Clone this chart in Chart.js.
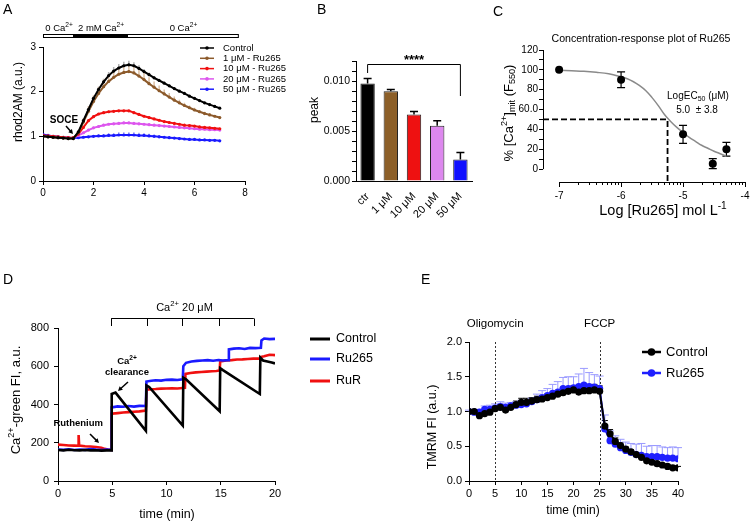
<!DOCTYPE html>
<html>
<head>
<meta charset="utf-8">
<script src="https://cdn.jsdelivr.net/npm/chart.js@4.4.1/dist/chart.umd.min.js"></script>
<style>
html, body { margin: 0; padding: 0; background: #fff; overflow: hidden; }
#wrap { position: relative; width: 750px; height: 524px; overflow: hidden; }
canvas { position: absolute; }
.lbl { position: absolute; font: 14px Arial, "Liberation Sans", sans-serif; line-height: 1; }
</style>
</head>
<body>
<div id="wrap">
  <canvas id="cA" style="left:0;top:0" width="300" height="250"></canvas>
  <canvas id="cB" style="left:300px;top:0" width="190" height="250"></canvas>
  <canvas id="cC" style="left:490px;top:0" width="270" height="250"></canvas>
  <canvas id="cD" style="left:0;top:260px" width="400" height="264"></canvas>
  <canvas id="cE" style="left:400px;top:300px" width="350" height="224"></canvas>
  <div class="lbl" style="left:3px;top:2px">A</div>
  <div class="lbl" style="left:317px;top:2px">B</div>
  <div class="lbl" style="left:493px;top:4px">C</div>
  <div class="lbl" style="left:3px;top:272px">D</div>
  <div class="lbl" style="left:421px;top:272px">E</div>
</div>
<script>
// ---- A: rhod2AM traces ----
const aTime = [0,0.2,0.4,0.6,0.8,1.0,1.2,1.4,1.6,1.8,2.0,2.2,2.4,2.6,2.8,3.0,3.2,3.4,3.6,3.8,4.0,4.2,4.4,4.6,4.8,5.0,5.2,5.4,5.6,5.8,6.0,6.2,6.4,6.6,6.8,7.0];
const aCtrl = [1.00,0.99,0.98,0.97,0.96,0.95,0.95,1.10,1.35,1.60,1.85,2.05,2.22,2.36,2.46,2.53,2.58,2.60,2.58,2.52,2.45,2.38,2.31,2.25,2.19,2.13,2.07,2.01,1.96,1.90,1.85,1.80,1.75,1.71,1.67,1.63];
const a1 = [1.00,0.99,0.98,0.97,0.96,0.95,0.95,1.08,1.32,1.56,1.78,1.96,2.11,2.23,2.32,2.39,2.43,2.45,2.42,2.35,2.27,2.18,2.10,2.02,1.95,1.88,1.81,1.75,1.69,1.64,1.59,1.55,1.51,1.48,1.45,1.42];
const a10 = [1.02,1.01,1.00,0.99,0.98,0.97,0.97,1.05,1.20,1.35,1.44,1.50,1.53,1.55,1.56,1.57,1.57,1.57,1.53,1.49,1.45,1.42,1.39,1.36,1.33,1.31,1.29,1.27,1.25,1.24,1.23,1.21,1.20,1.19,1.18,1.17];
const a20 = [1.00,1.00,0.99,0.98,0.97,0.96,0.96,1.02,1.08,1.14,1.19,1.22,1.25,1.27,1.28,1.29,1.30,1.30,1.29,1.28,1.27,1.26,1.25,1.24,1.23,1.22,1.21,1.20,1.19,1.18,1.17,1.16,1.16,1.15,1.15,1.14];
const a50 = [1.04,1.02,1.00,0.99,0.98,0.97,0.96,0.97,0.98,0.99,1.00,1.01,1.01,1.02,1.02,1.03,1.03,1.03,1.03,1.02,1.02,1.01,1.00,0.99,0.98,0.97,0.96,0.95,0.94,0.93,0.93,0.92,0.92,0.91,0.91,0.90];
const aCtrlErr = [0,0,0,0,0,0,0,0.02,0.03,0.04,0.05,0.06,0.07,0.08,0.09,0.09,0.09,0.09,0.08,0.07,0.06,0.05,0.04,0.04,0.03,0.03,0.03,0.03,0.02,0.02,0.02,0.02,0.02,0.02,0.02,0.02];
const a1Err = [0,0,0,0,0,0,0,0.05,0.09,0.12,0.14,0.15,0.16,0.16,0.16,0.16,0.16,0.16,0.16,0.16,0.15,0.14,0.13,0.12,0.10,0.09,0.08,0.07,0.06,0.05,0.05,0.04,0.04,0.04,0.03,0.03];
const a10Err = [0,0,0,0,0,0,0,0.01,0.02,0.02,0.02,0.02,0.02,0.02,0.02,0.02,0.02,0.02,0.02,0.02,0.02,0.02,0.02,0.02,0.02,0.02,0.01,0.01,0.01,0.01,0.01,0.01,0.01,0.01,0.01,0.01];
const a20Err = [0,0,0,0,0,0,0,0.01,0.02,0.03,0.03,0.03,0.03,0.03,0.03,0.03,0.03,0.03,0.03,0.03,0.03,0.03,0.03,0.03,0.03,0.03,0.02,0.02,0.02,0.02,0.02,0.02,0.02,0.02,0.02,0.02];
const a50Err = [0,0,0,0,0,0,0,0.01,0.02,0.02,0.03,0.03,0.04,0.05,0.05,0.06,0.06,0.06,0.06,0.06,0.05,0.05,0.04,0.04,0.03,0.03,0.02,0.02,0.02,0.02,0.02,0.02,0.02,0.02,0.02,0.02];
const aLabels = ['Control', '1 μM - Ru265', '10 μM - Ru265', '20 μM - Ru265', '50 μM - Ru265'];
const aColors = ['#000000', '#8c5a2b', '#f01010', '#dd55ee', '#1a1aff'];
const aErrColors = ['#b0b0b0', '#dcc0a4', '#ff9a9a', '#f2b6f8', '#a0a0ff'];
// solution bar above A (min)
const aBarStart = [0, 1.19, 3.33];
const aBarEnd = [1.19, 3.33, 7.72];
const aBarText = ['0 Ca', '2 mM Ca', '0 Ca'];

// ---- B: peak ----
const bLabels = ['ctr', '1 μM', '10 μM', '20 μM', '50 μM'];
const bPeak = [0.00976, 0.00897, 0.00665, 0.00553, 0.00215];
const bErr = [0.0005, 0.00017, 0.0003, 0.0005, 0.0007];
const bColors = ['#000000', '#8c5f28', '#ee1111', '#dd88ee', '#1111ff'];
const bBracket = [0.0117, 0.0108, 0.0085];

// ---- C: concentration-response ----
const cLogC = [-7, -6, -5, -4.52, -4.3];
const cResp = [100, 90, 35, 5.5, 20];
const cErr = [0, 8, 9, 5, 7];
const cFitX = [-7,-6.8,-6.6,-6.4,-6.2,-6.0,-5.9,-5.8,-5.7,-5.6,-5.5,-5.4,-5.3,-5.2,-5.1,-5.0,-4.9,-4.8,-4.7,-4.6,-4.5,-4.4,-4.3];
const cFitY = [99.5,99,98.5,97.5,96,93,91,88,84,79,72,64,55,48,42,37,32,28,24,21,18,15.5,13];
const cEC50 = -5.25;
const cXTicks = [-7, -6, -5, -4];
const cYTicks = [0, 10, 20, 30, 40, 50, 60, 70, 80, 90, 100, 110, 120];

// ---- D: Ca2+-green ----
const dCtrlT = [0,0.5,1,1.5,2,2.5,3,3.5,4,4.5,4.9,4.95,5.3,8.1,8.15,8.4,11.5,11.55,11.8,14.9,14.95,15.2,18.6,18.65,18.9,19.3,19.7,20];
const dCtrlY = [162,160,163,161,160,162,160,161,159,160,160,455,462,262,500,492,290,540,532,365,590,580,455,645,630,625,620,615];
const dRuT = [0,0.5,1,1.5,2,2.5,3,3.5,4,4.5,4.9,4.95,5.5,6,6.5,7,7.5,8.1,8.15,8.6,9,9.5,10,10.5,11,11.5,11.55,11.8,12.3,12.8,13.3,13.8,14.3,14.8,15.2,15.7,15.75,16.2,16.7,17.2,17.7,18.2,18.7,18.75,19,19.5,20];
const dRuY = [165,163,166,162,165,163,167,164,162,165,163,385,390,388,392,389,393,392,520,524,527,525,529,530,528,532,600,618,625,628,630,632,629,633,630,632,688,692,694,690,696,695,697,735,745,742,743];
const dRuRT = [0,0.5,1,1.5,1.85,1.9,1.95,2.5,3,3.5,4,4.3,4.6,4.9,4.95,5.5,6,6.5,7,7.5,8.1,8.15,8.6,9,9.5,10,10.5,11,11.5,11.7,11.75,12.2,12.7,13.2,13.7,14.2,14.6,14.9,14.95,15.5,16,16.5,17,17.5,18,18.6,18.65,19,19.5,20];
const dRuRY = [190,188,186,185,184,240,185,182,180,178,174,168,165,163,352,355,358,360,362,364,368,478,480,481,483,484,485,484,486,487,560,565,568,570,572,574,575,578,625,630,632,635,636,638,640,640,648,652,660,658];
const dLabels = ['Control', 'Ru265', 'RuR'];
const dColors = ['#000000', '#1a1aff', '#f01010'];
const dAdds = [4.9, 8.2, 11.45, 14.8, 18.05];

// ---- E: TMRM ----
const eTime = [0,1,2,3,4,5,6,7,8,9,10,11,12,13,14,15,16,17,18,19,20,21,22,23,24,25,26,27,28,29,30,31,32,33,34,35,36,37,38,39,40];
const eCtrl = [1.00,1.00,0.94,0.97,0.99,1.04,1.06,1.02,1.06,1.10,1.13,1.13,1.15,1.17,1.18,1.20,1.22,1.25,1.27,1.29,1.31,1.28,1.30,1.30,1.31,1.29,0.79,0.68,0.57,0.51,0.46,0.42,0.38,0.34,0.29,0.27,0.25,0.23,0.21,0.19,0.19];
const eCtrlErr = [0,0.02,0.03,0.03,0.03,0.04,0.04,0.03,0.04,0.05,0.06,0.06,0.05,0.05,0.05,0.05,0.05,0.05,0.05,0.06,0.06,0.06,0.07,0.07,0.08,0.08,0.08,0.06,0.05,0.04,0.03,0.03,0.03,0.02,0.02,0.02,0.02,0.02,0.02,0.02,0.02];
const eRu = [1.00,0.99,0.99,1.03,1.03,1.05,1.07,1.06,1.08,1.09,1.10,1.11,1.14,1.17,1.20,1.23,1.26,1.28,1.33,1.33,1.34,1.36,1.38,1.36,1.35,1.33,0.75,0.58,0.53,0.48,0.44,0.41,0.38,0.37,0.35,0.35,0.35,0.34,0.33,0.33,0.32];
const eRuErr = [0.02,0.03,0.04,0.05,0.06,0.06,0.07,0.06,0.05,0.05,0.06,0.05,0.05,0.08,0.10,0.10,0.13,0.15,0.16,0.17,0.16,0.18,0.24,0.20,0.18,0.18,0.20,0.14,0.12,0.12,0.12,0.13,0.15,0.17,0.15,0.16,0.16,0.15,0.15,0.16,0.16];
const eMarks = [5, 25];
const eMarkText = ['Oligomycin', 'FCCP'];

const FAM = 'Arial, "Liberation Sans", sans-serif';
Chart.defaults.font.family = FAM;
Chart.defaults.color = '#000';
Chart.defaults.animation = false;
Chart.defaults.responsive = false;
Chart.defaults.plugins.legend.display = false;
Chart.defaults.plugins.tooltip.enabled = false;

// text with optional super/subscript parts: [text, 1 = sup, -1 = sub]
function txt(ctx, parts, x, y, size, opts) {
  opts = opts || {};
  if (typeof parts === 'string') parts = [[parts]];
  const font = s => (opts.bold ? 'bold ' : '') + s + 'px ' + FAM;
  ctx.save();
  ctx.translate(x, y);
  if (opts.rot) ctx.rotate(opts.rot);
  let w = 0;
  parts.forEach(p => { ctx.font = font(p[1] ? size * 0.7 : size); w += ctx.measureText(p[0]).width; });
  let cx = opts.align === 'left' ? 0 : opts.align === 'right' ? -w : -w / 2;
  ctx.textBaseline = 'middle';
  ctx.textAlign = 'left';
  ctx.fillStyle = opts.color || '#000';
  parts.forEach(p => {
    const s = p[1] ? size * 0.7 : size;
    ctx.font = font(s);
    const dy = p[1] === 1 ? -size * 0.33 : p[1] === -1 ? size * 0.3 : 0;
    ctx.fillText(p[0], cx, dy);
    cx += ctx.measureText(p[0]).width;
  });
  ctx.restore();
}

function arrow(ctx, x1, y1, x2, y2) {
  const a = Math.atan2(y2 - y1, x2 - x1), h = 5;
  ctx.save();
  ctx.strokeStyle = '#000'; ctx.fillStyle = '#000'; ctx.lineWidth = 1.5;
  ctx.beginPath(); ctx.moveTo(x1, y1); ctx.lineTo(x2 - Math.cos(a) * 3, y2 - Math.sin(a) * 3); ctx.stroke();
  ctx.beginPath(); ctx.moveTo(x2, y2);
  ctx.lineTo(x2 - h * Math.cos(a - 0.5), y2 - h * Math.sin(a - 0.5));
  ctx.lineTo(x2 - h * Math.cos(a + 0.5), y2 - h * Math.sin(a + 0.5));
  ctx.closePath(); ctx.fill();
  ctx.restore();
}

const errorBars = {
  id: 'errorBars',
  beforeDatasetsDraw(chart) {
    const ctx = chart.ctx;
    chart.data.datasets.forEach((ds, i) => {
      if (!ds.errors) return;
      const meta = chart.getDatasetMeta(i);
      const ys = chart.scales[meta.yAxisID];
      ctx.save();
      ctx.strokeStyle = ds.errColor || '#000';
      ctx.lineWidth = ds.errWidth || 1;
      ctx.beginPath();
      meta.data.forEach((el, j) => {
        const e = ds.errors[j];
        if (!e) return;
        const d = ds.data[j];
        const v = typeof d === 'number' ? d : d.y;
        const yTop = ys.getPixelForValue(v + e);
        const yBot = ds.errBoth ? ys.getPixelForValue(v - e) : ys.getPixelForValue(v);
        ctx.moveTo(el.x, yBot); ctx.lineTo(el.x, yTop);
        if (ds.errCap) {
          ctx.moveTo(el.x - ds.errCap, yTop); ctx.lineTo(el.x + ds.errCap, yTop);
          if (ds.errBoth) { ctx.moveTo(el.x - ds.errCap, yBot); ctx.lineTo(el.x + ds.errCap, yBot); }
        }
      });
      ctx.stroke();
      ctx.restore();
    });
  }
};

function axis(min, max, step, size, fit, pad) {
  return {
    type: 'linear', min: min, max: max,
    border: { color: '#000', width: 1 },
    grid: { drawOnChartArea: false, color: '#000', tickLength: 4 },
    ticks: { stepSize: step, font: { size: size }, padding: pad == null ? 2 : pad, color: '#000', autoSkip: false },
    afterFit: fit
  };
}
const xy = (xs, ys) => xs.map((x, i) => ({ x: x, y: ys[i] }));

// ================= A =================
const aSeries = [aCtrl, a1, a10, a20, a50];
const aErrs = [aCtrlErr, a1Err, a10Err, a20Err, a50Err];
const aX = axis(0, 8, 2, 10, s => { s.height = 25; });
aX.border.dash = [2, 2];
new Chart(document.getElementById('cA'), {
  type: 'line',
  data: {
    datasets: aSeries.map((v, i) => ({
      label: aLabels[i], data: xy(aTime, v),
      borderColor: aColors[i], backgroundColor: aColors[i],
      borderWidth: 2, pointRadius: 1.6, pointBorderWidth: 0,
      errors: aErrs[i], errColor: aErrColors[i], errWidth: 1.5
    }))
  },
  options: {
    layout: { padding: { left: 0, top: 47, right: 55, bottom: 44 } },
    scales: { x: aX, y: axis(0, 3, 1, 10, s => { s.width = 43; }, 3) }
  },
  plugins: [errorBars, {
    id: 'panelA',
    afterDraw(chart) {
      const ctx = chart.ctx, x = chart.scales.x;
      txt(ctx, 'rhod2AM (a.u.)', 19, 102, 12, { rot: -Math.PI / 2 });
      aBarStart.forEach((s, i) => {
        const x1 = x.getPixelForValue(s), x2 = x.getPixelForValue(aBarEnd[i]);
        ctx.save();
        ctx.fillStyle = i === 1 ? '#000' : '#fff';
        ctx.strokeStyle = '#000'; ctx.lineWidth = 1;
        ctx.fillRect(x1, 34, x2 - x1, 4);
        ctx.strokeRect(Math.round(x1) + 0.5, 34.5, x2 - x1, 3);
        ctx.restore();
        txt(ctx, [[aBarText[i]], ['2+', 1]], (x1 + x2) / 2 + 1, 28, 9.5);
      });
      chart.data.datasets.forEach((ds, i) => {
        const y = 48 + i * 10.3;
        ctx.save();
        ctx.strokeStyle = ds.borderColor; ctx.fillStyle = ds.borderColor; ctx.lineWidth = 1.5;
        ctx.beginPath(); ctx.moveTo(200, y); ctx.lineTo(214, y); ctx.stroke();
        ctx.beginPath(); ctx.arc(207, y, 1.8, 0, Math.PI * 2); ctx.fill();
        ctx.restore();
        txt(ctx, ds.label, 223, y, 9.5, { align: 'left' });
      });
      txt(ctx, 'SOCE', 64, 120, 10, { bold: true });
      arrow(ctx, 66, 126, 73, 134);
    }
  }]
});

// ================= B =================
const bX = {
  type: 'category', offset: true,
  border: { color: '#000', width: 1 },
  grid: { display: false },
  ticks: { font: { size: 11 }, minRotation: 45, maxRotation: 45, padding: 1, color: '#000' },
  afterFit: s => { s.height = 45; }
};
const bY = axis(0, 0.012, 0.001, 10.5, s => { s.width = 56; });
bY.ticks.callback = v => { const k = Math.round(v * 1000); return k % 5 === 0 ? (k / 1000).toFixed(3) : ''; };
new Chart(document.getElementById('cB'), {
  type: 'bar',
  data: {
    labels: bLabels,
    datasets: [{
      data: bPeak, backgroundColor: bColors, borderColor: '#222', borderWidth: 1,
      barPercentage: 0.62, categoryPercentage: 1,
      errors: bErr, errColor: '#000', errWidth: 1.5, errCap: 4
    }]
  },
  options: {
    layout: { padding: { left: 0, top: 61, right: 18, bottom: 24 } },
    scales: { x: bX, y: bY }
  },
  plugins: [errorBars, {
    id: 'panelB',
    afterDraw(chart) {
      const ctx = chart.ctx, y = chart.scales.y, m = chart.getDatasetMeta(0);
      txt(ctx, 'peak', 15, 110, 12, { rot: -Math.PI / 2 });
      const xl = m.data[0].x, xr = m.data[4].x, yt = Math.round(y.getPixelForValue(bBracket[0])) + 0.5;
      ctx.save();
      ctx.strokeStyle = '#000'; ctx.lineWidth = 1;
      ctx.beginPath();
      ctx.moveTo(xl, y.getPixelForValue(bBracket[1])); ctx.lineTo(xl, yt);
      ctx.lineTo(xr, yt); ctx.lineTo(xr, y.getPixelForValue(bBracket[2]));
      ctx.stroke();
      ctx.restore();
      txt(ctx, '****', (xl + xr) / 2, yt - 4, 13, { bold: true });
    }
  }]
});

// ================= C =================
const cX = axis(-7.26, -4, 1, 10, s => { s.height = 30; }, 3);
cX.border = { display: false };
cX.grid.tickLength = 5;
cX.afterBuildTicks = s => { s.ticks = cXTicks.map(v => ({ value: v })); };
const cY = axis(-13, 120, 10, 10, s => { s.width = 53; }, 1);
cY.border = { display: false };
cY.afterBuildTicks = s => { s.ticks = cYTicks.map(v => ({ value: v })); };
cY.ticks.callback = v => v % 20 === 0 ? (v === 60 ? '60.0' : String(v)) : '';
new Chart(document.getElementById('cC'), {
  type: 'line',
  data: {
    datasets: [
      {
        data: xy(cLogC, cResp), showLine: false, pointRadius: 4,
        backgroundColor: '#000', borderColor: '#000', pointBorderWidth: 0,
        errors: cErr, errBoth: true, errCap: 4, errColor: '#000', errWidth: 1.2
      },
      { data: xy(cFitX, cFitY), borderColor: '#8a8a8a', borderWidth: 1.5, pointRadius: 0, tension: 0.4 },
      {
        data: [{ x: -7.26, y: 50 }, { x: cEC50, y: 50 }, { x: cEC50, y: -13 }],
        borderColor: '#000', borderWidth: 1.8, borderDash: [6, 3], pointRadius: 0
      }
    ]
  },
  options: {
    layout: { padding: { left: 0, top: 50, right: 15, bottom: 38 } },
    scales: { x: cX, y: cY }
  },
  plugins: [errorBars, {
    id: 'panelC',
    afterDraw(chart) {
      const ctx = chart.ctx, x = chart.scales.x, y = chart.scales.y, a = chart.chartArea;
      const L = Math.round(a.left) + 0.5, B = Math.round(a.bottom) + 0.5;
      ctx.save();
      ctx.strokeStyle = '#000'; ctx.lineWidth = 1;
      ctx.beginPath();
      ctx.moveTo(L, y.getPixelForValue(0)); ctx.lineTo(L, y.getPixelForValue(120));
      ctx.moveTo(x.getPixelForValue(-7), B); ctx.lineTo(x.getPixelForValue(-4), B);
      for (let n = -7; n < -4; n++) {
        for (let k = 2; k < 10; k++) {
          const px = Math.round(x.getPixelForValue(n + Math.log10(k))) + 0.5;
          ctx.moveTo(px, B); ctx.lineTo(px, B + 2.5);
        }
      }
      ctx.stroke();
      ctx.restore();
      txt(ctx, 'Concentration-response plot of Ru265', 151, 39, 10.6);
      txt(ctx, [['% [Ca'], ['2+', 1], [']'], ['mit', -1], [' (F'], ['550', -1], [')']], 19, 113, 13, { rot: -Math.PI / 2 });
      txt(ctx, [['Log [Ru265] mol L'], ['-1', 1]], 173, 211, 14.5);
      txt(ctx, [['LogEC'], ['50', -1], [' (μM)']], 208, 96, 10);
      txt(ctx, '5.0  ± 3.8', 207, 110, 10);
    }
  }]
});

// ================= D =================
const dData = [xy(dCtrlT, dCtrlY), xy(dRuT, dRuY), xy(dRuRT, dRuRY)];
new Chart(document.getElementById('cD'), {
  type: 'line',
  data: {
    datasets: dData.map((d, i) => ({
      label: dLabels[i], data: d, borderColor: dColors[i], borderWidth: 2.6, pointRadius: 0
    }))
  },
  options: {
    layout: { padding: { left: 0, top: 68, right: 125, bottom: 18 } },
    scales: {
      x: axis(0, 20, 5, 11, s => { s.height = 25; }),
      y: axis(0, 800, 200, 11, s => { s.width = 58; }, 5)
    }
  },
  plugins: [{
    id: 'panelD',
    afterDraw(chart) {
      const ctx = chart.ctx, x = chart.scales.x;
      txt(ctx, [['Ca'], ['2+', 1], ['-green FI, a.u.']], 16, 140, 13, { rot: -Math.PI / 2 });
      txt(ctx, 'time (min)', 167, 255, 12.5);
      chart.data.datasets.forEach((ds, i) => {
        const y = [79, 99, 121][i];
        ctx.save();
        ctx.strokeStyle = ds.borderColor; ctx.lineWidth = 3;
        ctx.beginPath(); ctx.moveTo(310, y); ctx.lineTo(330, y); ctx.stroke();
        ctx.restore();
        txt(ctx, ds.label, 336, y, 12.5, { align: 'left' });
      });
      ctx.save();
      ctx.strokeStyle = '#000'; ctx.lineWidth = 1;
      ctx.beginPath();
      const x0 = x.getPixelForValue(dAdds[0]), x1 = x.getPixelForValue(dAdds[dAdds.length - 1]);
      ctx.moveTo(x0, 58.5); ctx.lineTo(x1, 58.5);
      dAdds.forEach(t => { const px = Math.round(x.getPixelForValue(t)) + 0.5; ctx.moveTo(px, 58.5); ctx.lineTo(px, 66); });
      ctx.stroke();
      ctx.restore();
      txt(ctx, [['Ca'], ['2+', 1], [' 20 μM']], (x0 + x1) / 2 + 2, 48, 11);
      txt(ctx, 'Ruthenium', 103, 163, 9.5, { bold: true, align: 'right' });
      arrow(ctx, 90, 174, 99, 183);
      txt(ctx, [['Ca'], ['2+', 1]], 127, 101, 9.5, { bold: true });
      txt(ctx, 'clearance', 127, 112, 9.5, { bold: true });
      arrow(ctx, 128, 122, 118, 131);
    }
  }]
});

// ================= E =================
const eY = axis(0, 2, 0.5, 11, s => { s.width = 69; }, 3);
eY.ticks.callback = v => v.toFixed(1);
new Chart(document.getElementById('cE'), {
  type: 'line',
  data: {
    datasets: [
      {
        label: 'Control', data: xy(eTime, eCtrl), borderColor: '#000', backgroundColor: '#000',
        borderWidth: 2, pointRadius: 3.6, pointBorderWidth: 0,
        errors: eCtrlErr, errColor: '#000', errWidth: 1, errCap: 3
      },
      {
        label: 'Ru265', data: xy(eTime, eRu), borderColor: '#1f1fff', backgroundColor: '#1f1fff',
        borderWidth: 2, pointRadius: 3.6, pointBorderWidth: 0,
        errors: eRuErr, errColor: '#9a9aff', errWidth: 1, errCap: 4
      }
    ]
  },
  options: {
    layout: { padding: { left: 0, top: 42, right: 72, bottom: 18 } },
    scales: { x: axis(0, 40, 5, 11, s => { s.height = 25; }), y: eY }
  },
  plugins: [errorBars, {
    id: 'panelE',
    beforeDatasetsDraw(chart) {
      const ctx = chart.ctx, x = chart.scales.x, a = chart.chartArea;
      ctx.save();
      ctx.strokeStyle = '#333'; ctx.lineWidth = 1; ctx.setLineDash([2, 2]);
      ctx.beginPath();
      eMarks.forEach(t => { const px = Math.round(x.getPixelForValue(t)) + 0.5; ctx.moveTo(px, a.top); ctx.lineTo(px, a.bottom); });
      ctx.stroke();
      ctx.restore();
    },
    afterDraw(chart) {
      const ctx = chart.ctx, x = chart.scales.x;
      eMarks.forEach((t, i) => txt(ctx, eMarkText[i], x.getPixelForValue(t), 24, 11.5));
      txt(ctx, 'TMRM FI (a.u.)', 33, 127, 12.5, { rot: -Math.PI / 2 });
      txt(ctx, 'time (min)', 173, 211, 12);
      chart.data.datasets.forEach((ds, i) => {
        const y = [52, 73][i];
        ctx.save();
        ctx.strokeStyle = ds.borderColor; ctx.fillStyle = ds.borderColor; ctx.lineWidth = 2.5;
        ctx.beginPath(); ctx.moveTo(242, y); ctx.lineTo(261, y); ctx.stroke();
        ctx.beginPath(); ctx.arc(251.5, y, 3.8, 0, Math.PI * 2); ctx.fill();
        ctx.restore();
        txt(ctx, ds.label, 266, y, 13, { align: 'left' });
      });
    }
  }]
});
</script>
</body>
</html>
